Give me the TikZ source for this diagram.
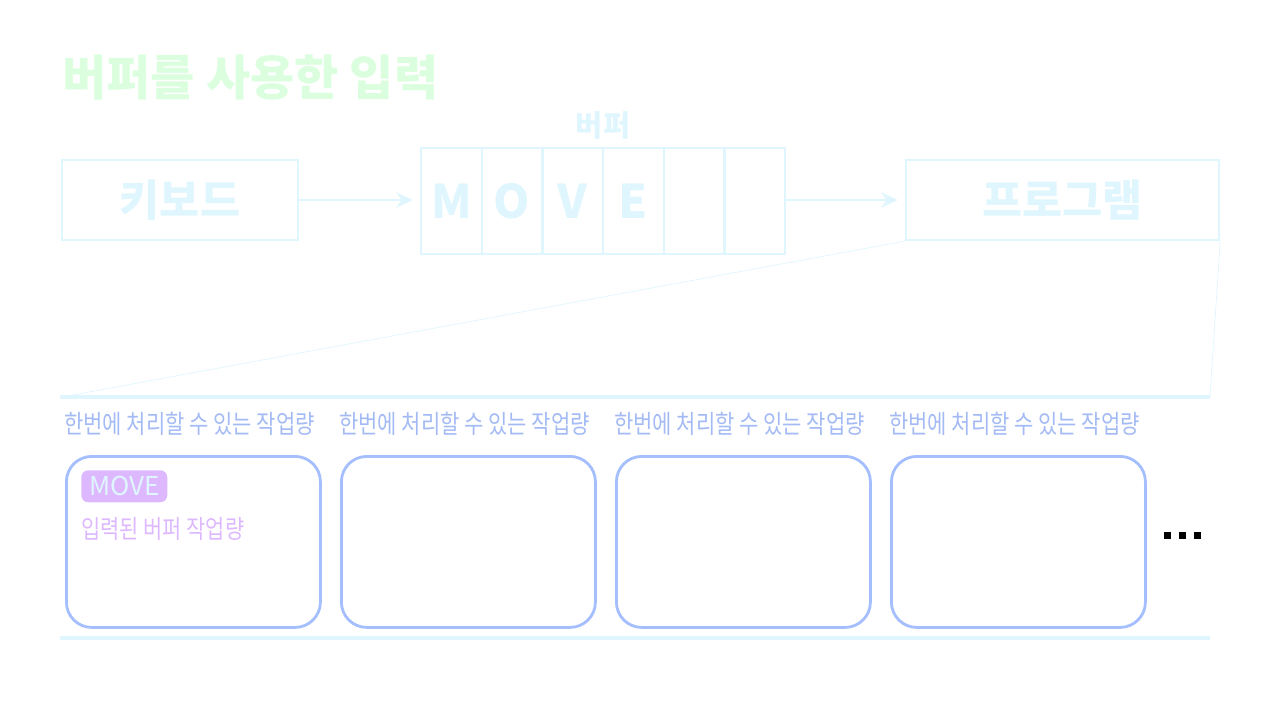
\documentclass[tikz,border=0pt]{standalone}
\usepackage{fontspec}
\usepackage{tikz}
\usetikzlibrary{arrows.meta,positioning}
\newfontfamily\kr{Noto Sans CJK KR}
\newfontfamily\krc{Noto Sans CJK KR}[FakeStretch=0.82]
\definecolor{titlegreen}{HTML}{DBFFDE}
\definecolor{pale}{HTML}{E0F6FE}
\definecolor{labelblue}{HTML}{A3BAF5}
\definecolor{boxblue}{HTML}{A4BEFE}
\definecolor{lavender}{HTML}{DDB8FF}

\begin{document}
\begin{tikzpicture}[x=0.025cm, y=-0.025cm, >={Stealth[length=12pt, width=11pt]},
    pale box/.style={draw=pale, line width=1.6pt, inner sep=0pt, text=pale},
    pale arrow/.style={->, draw=pale, line width=1.2pt, shorten >=5pt},
    amount label/.style={anchor=west, inner sep=0pt, text=labelblue, font=\krc\fontsize{18.2}{18.2}\selectfont},
    work box/.style={draw=boxblue, line width=2pt, rounded corners=18pt, minimum width=254*0.025cm, minimum height=171*0.025cm, anchor=north west, inner sep=0pt}]

    \useasboundingbox (0,0) rectangle (1280,719);

    % --- Title ---
    \node[anchor=west, inner sep=0pt, text=titlegreen, font=\kr\bfseries\fontsize{34.2}{34.2}\selectfont] (title) at (62,78) {버퍼를 사용한 입력};

    % --- Keyboard ---
    \node[pale box, minimum width=236*0.025cm, minimum height=80*0.025cm, font=\kr\bfseries\fontsize{31}{31}\selectfont] (keyboard) at (180,200) {키보드};

    % --- Buffer cells ---
    \foreach \ch [count=\i] in {M,O,V,E,{},{}} {
        \node[pale box, minimum width=60.67*0.025cm, minimum height=106*0.025cm, anchor=north west,
              font=\kr\bfseries\fontsize{33}{33}\selectfont] (cell\i) at ({420+(\i-1)*60.67},147) {\ch};
    }
    \node[text=pale, font=\kr\bfseries\fontsize{21}{21}\selectfont, inner sep=0pt] (buffer) at (603,125) {버퍼};

    % --- Program ---
    \node[pale box, minimum width=313*0.025cm, minimum height=80*0.025cm, font=\kr\bfseries\fontsize{31}{31}\selectfont] (program) at (1062.5,200) {프로그램};

    % --- Arrows ---
    \draw[pale arrow] (keyboard.east) -- (keyboard.east -| cell1.west);
    \draw[pale arrow] (cell6.east |- program.west) -- (program.west);

    % --- Funnel ---
    \coordinate (funL) at (62,397);
    \coordinate (funR) at (1210,397);
    \draw[pale, line width=0.5pt] (program.south west) -- (funL);
    \draw[pale, line width=0.5pt] (program.south east) -- (funR);
    \draw[pale, line width=2.6pt] (60,397) -- (1210,397);
    \draw[pale, line width=2.6pt] (60,638) -- (1210,638);

    % --- Work amounts ---
    \foreach \x [count=\i] in {65,340,615,890} {
        \node[amount label] (amount\i) at (\x-1,424) {한번에 처리할 수 있는 작업량};
        \node[work box] (work\i) at (\x,455) {};
    }

    % --- First work box content ---
    \node[fill=lavender, rounded corners=5pt, anchor=north west, minimum width=86*0.025cm, minimum height=32*0.025cm,
          inner sep=0pt, text=pale, font=\kr\fontsize{18.5}{18.5}\selectfont] (move) at (81,470) {MOVE};
    \node[anchor=west, inner sep=0pt, text=lavender, font=\krc\fontsize{18.1}{18.1}\selectfont] (filled) at (81,529) {입력된 버퍼 작업량};

    % --- More ---
    \foreach \x in {1167,1182,1197}
        \fill (\x-3.5,531.5) rectangle (\x+3.5,538.5);

\end{tikzpicture}
\end{document}
